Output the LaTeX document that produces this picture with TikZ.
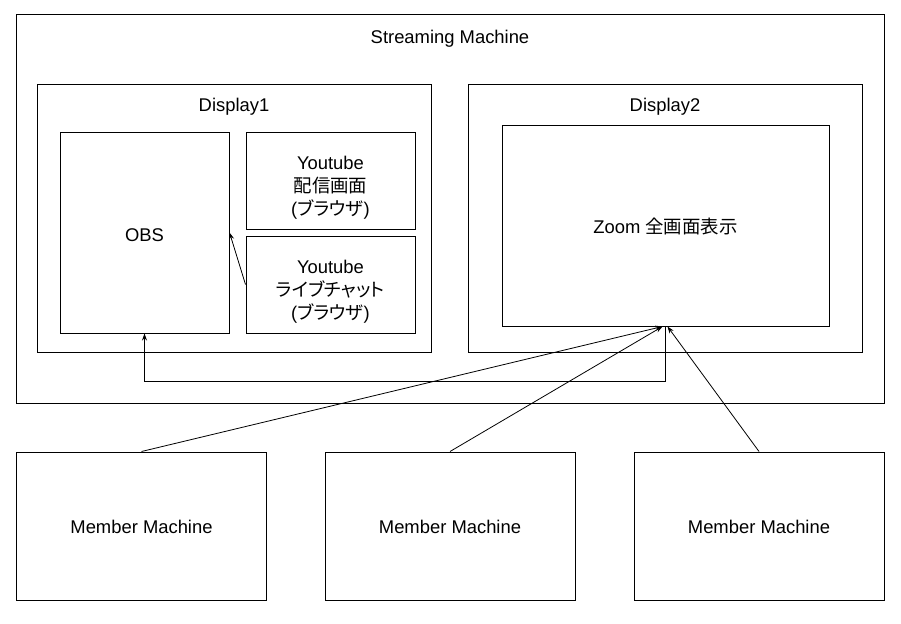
\documentclass[tikz,border=0pt]{standalone}
\usepackage{fontspec}
\setmainfont{Liberation Sans}
\newfontfamily\jp[RawFeature=+palt]{Noto Sans CJK JP}
\usetikzlibrary{positioning,arrows.meta,calc}

% move a line of text down without changing its box
\newcommand\dropby[2]{\raisebox{-#1}[\height][\depth]{#2}}

\tikzset{
  box/.style={draw, line width=1pt, inner sep=0pt, align=center},
  arr/.style={-{Stealth[length=7pt,width=5pt]}, line width=0.8pt},
}

\begin{document}
\begin{tikzpicture}[x=1pt,y=-1pt,font=\fontsize{18.4}{23}\selectfont]
  \useasboundingbox (0,0) rectangle (901,623);
  % streaming machine with its two displays
  \node[box, minimum width=868, minimum height=388] (sm) at (450,209) {};
  \node (smtitle) at ([yshift=-24]sm.north) {Streaming Machine};
  \node[box, minimum width=394, minimum height=267] (d1) at (234,218.5) {};
  \node (d1title) at ([yshift=-22]d1.north) {Display1};
  \node[box, minimum width=394, minimum height=267] (d2) at (665,218.5) {};
  \node (d2title) at ([yshift=-22]d2.north) {Display2};
  % windows on the displays
  \node[box, minimum width=169, minimum height=201] (obs) at (144.5,232.5) {\dropby{3pt}{OBS}};
  \node[box, minimum width=169, minimum height=97] (yt) at (330.5,180.5)
    {\dropby{7pt}{Youtube}\\\dropby{7pt}{\jp 配信画面}\\\dropby{7pt}{({\jp ブラウザ})}};
  \node[box, minimum width=169, minimum height=97] (chat) at (330.5,284.5)
    {\dropby{7pt}{Youtube}\\\dropby{7pt}{\jp ライブチャット}\\\dropby{7pt}{({\jp ブラウザ})}};
  \node[box, minimum width=327, minimum height=201] (zoom) at (665.5,225.5) {\dropby{1pt}{Zoom {\jp 全画面表示}}};
  % member machines
  \foreach \x [count=\i] in {141.5,450,759} {
    \node[box, minimum width=250, minimum height=148] (m\i) at (\x,526) {\dropby{1pt}{Member Machine}};
  }
  % connections
  \draw[arr] (chat.west) -- (obs.east);
  \draw[arr] (zoom.south) -- ++(0,55) -| (obs.south);
  \foreach \i/\s in {1/-3,2/-3,3/2} {
    \draw[arr] (m\i.north) -- ([xshift=\s]zoom.south);
  }
\end{tikzpicture}
\end{document}
